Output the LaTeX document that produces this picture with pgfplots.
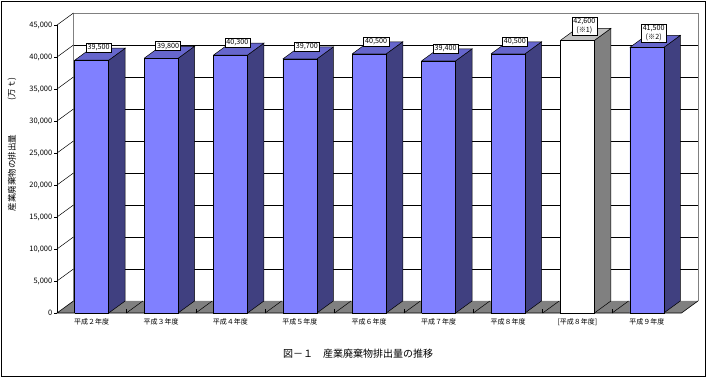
\documentclass[border=0pt]{standalone}
\usepackage{fontspec}
\setmainfont{Noto Sans CJK JP}
\usepackage{pgfplots}
\pgfplotsset{compat=1.18}
\definecolor{bfront}{RGB}{128,128,255}
\definecolor{bside}{RGB}{64,64,128}
\definecolor{btop}{RGB}{102,102,204}
\definecolor{wside}{RGB}{128,128,128}
\definecolor{wtop}{RGB}{192,192,192}
\definecolor{floorgray}{RGB}{128,128,128}
\definecolor{edgegray}{RGB}{128,128,128}

% x, value, front colour, side colour, top colour
\newcommand\drawbar[5]{%
  \pgfmathsetmacro\xl{#1-0.245}%
  \pgfmathsetmacro\xr{#1+0.245}%
  \pgfmathsetmacro\xlb{#1-0.245+0.238}%
  \pgfmathsetmacro\xrb{#1+0.245+0.238}%
  \edef\vb{\the\numexpr#2+1880\relax}%
  \edef\tmp{%
    \noexpand\addplot[draw=black,fill=#4,line width=0.5pt] coordinates {(\xr,0) (\xrb,1880) (\xrb,\vb) (\xr,#2) (\xr,0)};
    \noexpand\addplot[draw=black,fill=#5,line width=0.5pt] coordinates {(\xl,#2) (\xr,#2) (\xrb,\vb) (\xlb,\vb) (\xl,#2)};
    \noexpand\addplot[draw=black,fill=#3,line width=0.5pt] coordinates {(\xl,0) (\xr,0) (\xr,#2) (\xl,#2) (\xl,0)};
  }\tmp
}

\tikzset{vlab/.style={draw=black, fill=white, line width=0.5pt, inner xsep=1.6pt, inner ysep=1.2pt,
  font=\fontsize{7.2}{9}\selectfont, align=center}}

\begin{document}
\begin{tikzpicture}
\useasboundingbox (0pt,0pt) rectangle (707pt,378pt);
\draw[line width=1.5pt] (1.5pt,1.5pt) rectangle (705.5pt,376.5pt);
\begin{axis}[
  at={(57pt,65pt)}, anchor=south west,
  scale only axis, width=641pt, height=300pt,
  xmin=0.5, xmax=9.738, ymin=0, ymax=46880,
  clip=false,
  axis line style={draw=none},
  xtick={1,2,3,4,5,6,7,8,9},
  xticklabels={平成２年度,平成３年度,平成４年度,平成５年度,平成６年度,平成７年度,平成８年度,[平成８年度],平成９年度},
  xtick style={draw=none},
  ytick={0,5000,10000,15000,20000,25000,30000,35000,40000,45000},
  ytick pos=left, xtick pos=bottom,
  tick align=outside, major tick length=3pt,
  ytick style={black, line width=0.5pt},
  yticklabel style={font=\fontsize{7.5}{8}\selectfont, inner sep=1.5pt},
  xticklabel style={font=\fontsize{7}{8}\selectfont, inner sep=1pt, yshift=-1pt},
  scaled y ticks=false,
  /pgf/number format/1000 sep={,},
  /pgf/number format/fixed,
  /pgf/number format/assume math mode=true,
]
% back wall grid lines
\addplot[black,line width=0.5pt] coordinates {(0.738,6880) (9.738,6880)};
\addplot[black,line width=0.5pt] coordinates {(0.738,11880) (9.738,11880)};
\addplot[black,line width=0.5pt] coordinates {(0.738,16880) (9.738,16880)};
\addplot[black,line width=0.5pt] coordinates {(0.738,21880) (9.738,21880)};
\addplot[black,line width=0.5pt] coordinates {(0.738,26880) (9.738,26880)};
\addplot[black,line width=0.5pt] coordinates {(0.738,31880) (9.738,31880)};
\addplot[black,line width=0.5pt] coordinates {(0.738,36880) (9.738,36880)};
\addplot[black,line width=0.5pt] coordinates {(0.738,41880) (9.738,41880)};
\addplot[edgegray,line width=0.6pt] coordinates {(0.738,1880) (0.738,46880) (9.738,46880) (9.738,1880)};
% left wall lines
\addplot[black,line width=0.5pt] coordinates {(0.5,5000) (0.738,6880)};
\addplot[black,line width=0.5pt] coordinates {(0.5,10000) (0.738,11880)};
\addplot[black,line width=0.5pt] coordinates {(0.5,15000) (0.738,16880)};
\addplot[black,line width=0.5pt] coordinates {(0.5,20000) (0.738,21880)};
\addplot[black,line width=0.5pt] coordinates {(0.5,25000) (0.738,26880)};
\addplot[black,line width=0.5pt] coordinates {(0.5,30000) (0.738,31880)};
\addplot[black,line width=0.5pt] coordinates {(0.5,35000) (0.738,36880)};
\addplot[black,line width=0.5pt] coordinates {(0.5,40000) (0.738,41880)};
\addplot[black,line width=0.5pt] coordinates {(0.5,45000) (0.738,46880)};
% floor
\addplot[fill=floorgray,draw=none] coordinates {(0.5,0) (9.5,0) (9.738,1880) (0.738,1880) (0.5,0)};
\addplot[black,line width=0.6pt] coordinates {(0.738,1880) (0.5,0) (9.5,0) (9.738,1880)};
\addplot[black,line width=0.5pt] coordinates {(1.5,0) (1.738,1880)};
\addplot[black,line width=0.5pt] coordinates {(2.5,0) (2.738,1880)};
\addplot[black,line width=0.5pt] coordinates {(3.5,0) (3.738,1880)};
\addplot[black,line width=0.5pt] coordinates {(4.5,0) (4.738,1880)};
\addplot[black,line width=0.5pt] coordinates {(5.5,0) (5.738,1880)};
\addplot[black,line width=0.5pt] coordinates {(6.5,0) (6.738,1880)};
\addplot[black,line width=0.5pt] coordinates {(7.5,0) (7.738,1880)};
\addplot[black,line width=0.5pt] coordinates {(8.5,0) (8.738,1880)};
\addplot[black,line width=0.5pt] coordinates {(1.5,0) (1.5,600)};
\addplot[black,line width=0.5pt] coordinates {(2.5,0) (2.5,600)};
\addplot[black,line width=0.5pt] coordinates {(3.5,0) (3.5,600)};
\addplot[black,line width=0.5pt] coordinates {(4.5,0) (4.5,600)};
\addplot[black,line width=0.5pt] coordinates {(5.5,0) (5.5,600)};
\addplot[black,line width=0.5pt] coordinates {(6.5,0) (6.5,600)};
\addplot[black,line width=0.5pt] coordinates {(7.5,0) (7.5,600)};
\addplot[black,line width=0.5pt] coordinates {(8.5,0) (8.5,600)};
% front y axis line
\addplot[black,line width=0.6pt] coordinates {(0.5,0) (0.5,45000)};
% bars
\drawbar{1}{39500}{bfront}{bside}{btop}
\drawbar{2}{39800}{bfront}{bside}{btop}
\drawbar{3}{40300}{bfront}{bside}{btop}
\drawbar{4}{39700}{bfront}{bside}{btop}
\drawbar{5}{40500}{bfront}{bside}{btop}
\drawbar{6}{39400}{bfront}{bside}{btop}
\drawbar{7}{40500}{bfront}{bside}{btop}
\drawbar{8}{42600}{white}{wside}{wtop}
\drawbar{9}{41500}{bfront}{bside}{btop}
% value labels
\node[vlab] at (axis cs:1.1,41400) {39,500};
\node[vlab] at (axis cs:2.1,41700) {39,800};
\node[vlab] at (axis cs:3.1,42200) {40,300};
\node[vlab] at (axis cs:4.1,41600) {39,700};
\node[vlab] at (axis cs:5.1,42400) {40,500};
\node[vlab] at (axis cs:6.1,41300) {39,400};
\node[vlab] at (axis cs:7.1,42400) {40,500};
\node[vlab] at (axis cs:8.1,44760) {42,600\\(※1)};
\node[vlab] at (axis cs:9.1,43670) {41,500\\(※2)};
\end{axis}
\node[rotate=90, font=\fontsize{8.5}{9}\selectfont] at (12pt,205pt) {産業廃棄物の排出量};
\node[rotate=90, font=\fontsize{8.5}{9}\selectfont] at (12pt,289pt) {(万ｔ)};
\node[font=\fontsize{10}{11}\selectfont] at (358pt,24pt) {図－１　産業廃棄物排出量の推移};
\end{tikzpicture}
\end{document}
